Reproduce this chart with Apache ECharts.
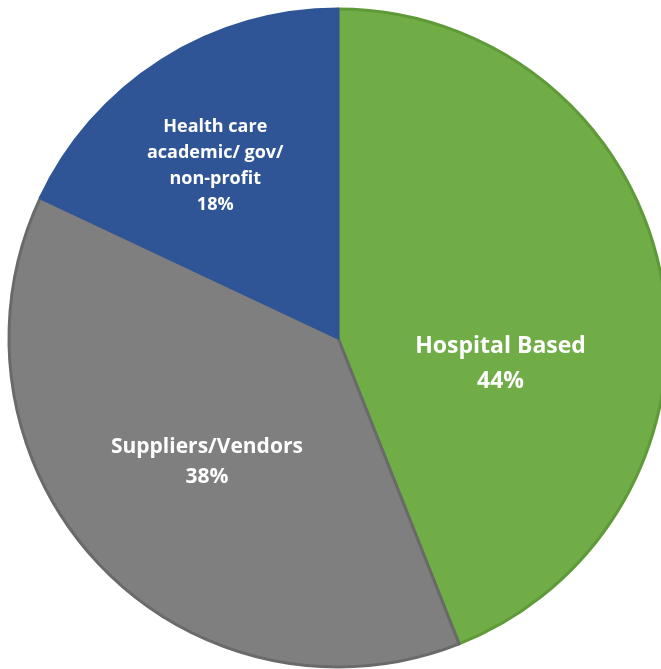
<!DOCTYPE html>
<html>
<head>
<meta charset="utf-8">
<script src="https://cdn.jsdelivr.net/npm/echarts@6/dist/echarts.min.js"></script>
<style>
  html, body { margin: 0; padding: 0; background: #fff; }
  #main { width: 661px; height: 669px; }
</style>
</head>
<body>
<div id="main"></div>
<script>
var categories = ['Hospital Based', 'Suppliers/Vendors', 'Health care\nacademic/ gov/\nnon-profit'];
var values = [44, 38, 18];

var colors = ['#70ad47', '#7f7f7f', '#2f5597'];
var borders = ['#5e9a38', '#6a6a6a', '#2f5597'];
var labelStyles = [
    { fontSize: 23, lineHeight: 35, offset: [-2, 57] },
    { fontSize: 21, lineHeight: 30, offset: [-9, 9] },
    { fontSize: 18, lineHeight: 26, offset: [-33, -31] }
];

var chart = echarts.init(document.getElementById('main'));

var data = categories.map(function (name, i) {
    return {
        name: name,
        value: values[i],
        itemStyle: { color: colors[i], borderColor: borders[i], borderWidth: 3 },
        label: labelStyles[i]
    };
});

chart.setOption({
    animation: false,
    series: [{
        type: 'pie',
        center: [338, 338],
        radius: 329,
        startAngle: 90,
        clockwise: true,
        label: {
            show: true,
            position: 'inside',
            color: '#fff',
            fontWeight: 'bold',
            fontFamily: 'Open Sans',
            formatter: function (p) { return p.name + '\n' + p.value + '%'; }
        },
        labelLine: { show: false },
        data: data
    }]
});
</script>
</body>
</html>
